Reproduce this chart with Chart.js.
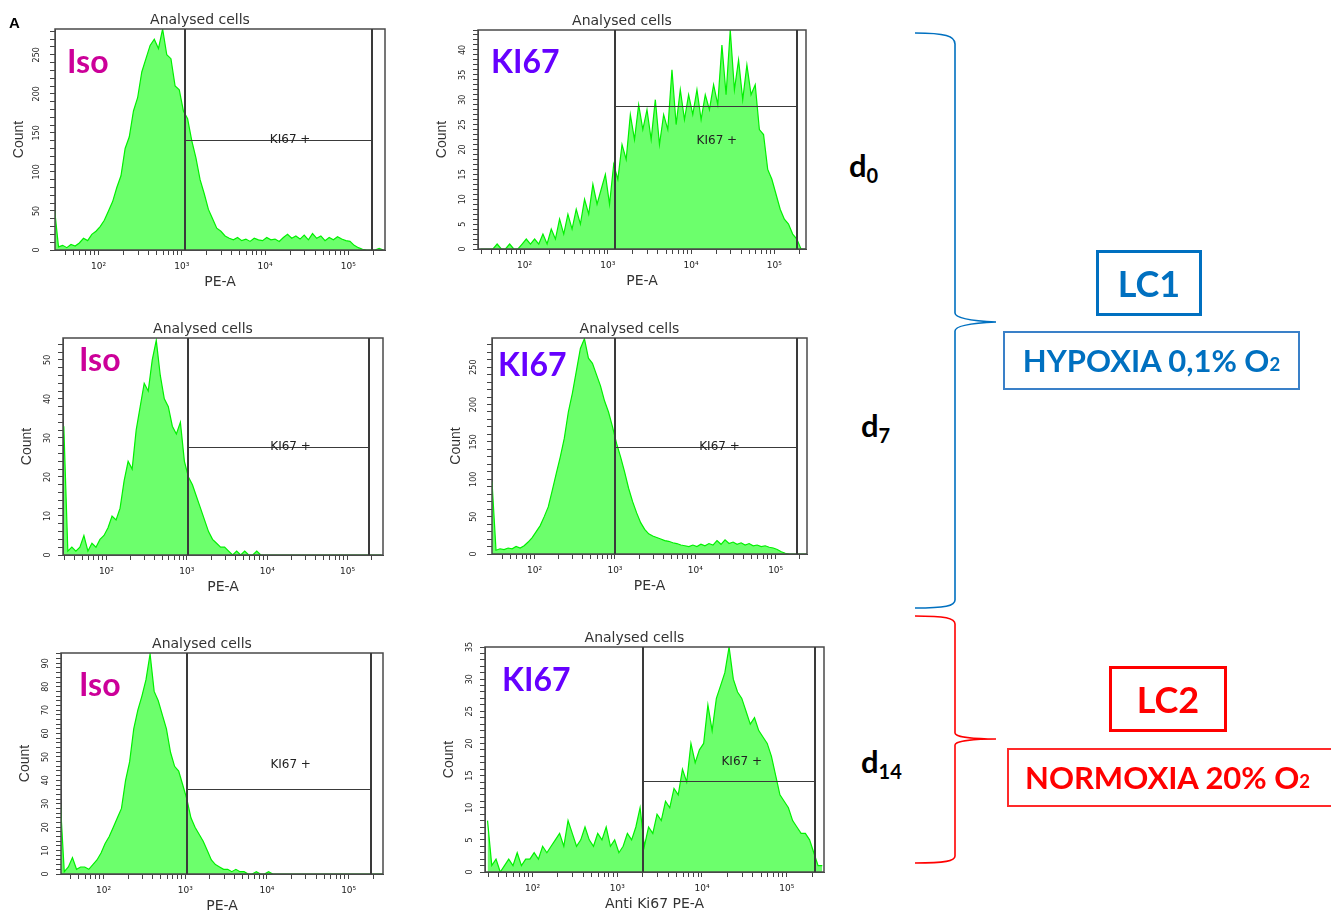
<!DOCTYPE html>
<html>
<head>
<meta charset="utf-8">
<script src="https://cdn.jsdelivr.net/npm/chart.js@4.4.1/dist/chart.umd.min.js"></script>
<style>
  body { margin: 0; background: #fff; width: 1331px; height: 916px; overflow: hidden; position: relative; font-family: Lato, "Open Sans", sans-serif; }
  canvas { position: absolute; }
  .t { position: absolute; font-weight: 700; white-space: nowrap; line-height: 1; }
  .iso { color: #cc0099; font-size: 32px; }
  .ki { color: #6600ff; font-size: 32px; }
  .day { color: #000; font-size: 31px; line-height: 31px; }
  .day sub { font-size: 20px; vertical-align: baseline; position: relative; top: 6px; }
  .box { position: absolute; box-sizing: border-box; display: flex; align-items: center; justify-content: center; font-weight: 700; white-space: nowrap; line-height: 1; }
  .box sub { font-size: 0.6em; vertical-align: baseline; position: relative; top: 0.2em; }
</style>
</head>
<body>

<div class="t" style="left:9px;top:15px;font:bold 15px 'Liberation Sans';line-height:15px;">A</div>

<div class="t iso" style="left:67px;top:45px;">Iso</div>
<div class="t ki" style="left:491px;top:45px;">KI67</div>
<div class="t iso" style="left:79px;top:343px;">Iso</div>
<div class="t ki" style="left:498px;top:348px;">KI67</div>
<div class="t iso" style="left:79px;top:668px;">Iso</div>
<div class="t ki" style="left:502px;top:663px;">KI67</div>

<div class="t day" style="left:849px;top:150px;">d<sub>0</sub></div>
<div class="t day" style="left:861px;top:410px;">d<sub>7</sub></div>
<div class="t day" style="left:861px;top:746px;">d<sub>14</sub></div>

<svg style="position:absolute;left:0;top:0" width="1331" height="916">
  <path d="M915,33 C945,33 955,36 955,44 L955,313 C955,319 975,321 996,322 C975,323 955,325 955,331 L955,600 C955,606 945,608 915,608"
        fill="none" stroke="#0070c0" stroke-width="1.6"/>
  <path d="M915,616 C945,616 955,618 955,624 L955,733 C955,737 975,739 996,739 C975,739 955,741 955,745 L955,856 C955,861 945,863 915,863"
        fill="none" stroke="#ff0000" stroke-width="1.6"/>
</svg>

<div class="box" style="left:1096px;top:250px;width:106px;height:66px;border:3px solid #0070c0;color:#0070c0;font-size:36px;">LC1</div>
<div class="box" style="left:1003px;top:331px;width:297px;height:59px;border:2px solid #3a80c8;color:#0070c0;font-size:31px;">HYPOXIA 0,1% O<sub>2</sub></div>
<div class="box" style="left:1109px;top:666px;width:118px;height:66px;border:3px solid #ff0000;color:#ff0000;font-size:36px;">LC2</div>
<div class="box" style="left:1007px;top:748px;width:330px;height:59px;border:2px solid #ff2a2a;color:#ff0000;font-size:31px;justify-content:flex-start;padding-left:16px;">NORMOXIA 20% O<sub>2</sub></div>

<script>
// log10 of the channel centres shared by every histogram
const binExp = [
  1.47, 1.52, 1.57, 1.62, 1.67, 1.72, 1.77, 1.82, 1.87, 1.92,
  1.97, 2.02, 2.07, 2.12, 2.17, 2.22, 2.27, 2.32, 2.37, 2.42,
  2.47, 2.52, 2.57, 2.62, 2.67, 2.72, 2.77, 2.82, 2.87, 2.92,
  2.97, 3.02, 3.07, 3.12, 3.17, 3.22, 3.27, 3.32, 3.37, 3.42,
  3.47, 3.52, 3.57, 3.62, 3.67, 3.72, 3.77, 3.82, 3.87, 3.92,
  3.97, 4.02, 4.07, 4.12, 4.17, 4.22, 4.27, 4.32, 4.37, 4.42,
  4.47, 4.52, 4.57, 4.62, 4.67, 4.72, 4.77, 4.82, 4.87, 4.92,
  4.97, 5.02, 5.07, 5.12, 5.17, 5.22, 5.27, 5.32, 5.37, 5.42
];

// counts per channel
const isoD0 = [
  55, 4, 6, 3, 7, 5, 9, 15, 12, 20,
  24, 30, 38, 50, 62, 80, 95, 130, 145, 178,
  195, 228, 245, 262, 270, 258, 283, 250, 245, 210,
  205, 178, 168, 140, 118, 90, 72, 52, 40, 28,
  24, 18, 15, 13, 16, 12, 14, 11, 15, 13,
  12, 16, 13, 14, 11, 16, 20, 15, 18, 14,
  19, 13, 21, 15, 18, 12, 16, 13, 17, 14,
  12, 11, 6, 3, 1, 0, 0, 0, 2, 0
];
const ki67D0 = [
  0, 0, 0, 0, 1, 0, 0, 1, 0, 0,
  1, 2, 1, 2, 1, 3, 1, 4, 2, 6,
  3, 7, 4, 8, 5, 10, 7, 13, 9, 12,
  15, 9, 17, 14, 21, 18, 27, 22, 29, 24,
  28, 22, 30, 21, 27, 24, 36, 25, 32, 26,
  31, 27, 32, 26, 31, 28, 33, 29, 41, 31,
  44, 32, 38, 30, 37, 31, 33, 24, 23, 16,
  14, 11, 8, 6, 5, 3, 2, 0, 0, 0
];
const isoD7 = [
  33, 1, 2, 1, 2, 5, 1, 3, 2, 4,
  5, 7, 10, 9, 12, 19, 24, 22, 32, 38,
  44, 42, 50, 55, 46, 40, 38, 33, 31, 34,
  24, 20, 18, 15, 12, 9, 6, 4, 3, 2,
  2, 1, 0, 1, 0, 1, 0, 0, 1, 0,
  0, 0, 0, 0, 0, 0, 0, 0, 0, 0,
  0, 0, 0, 0, 0, 0, 0, 0, 0, 0,
  0, 0, 0, 0, 0, 0, 0, 0, 0, 0
];
const ki67D7 = [
  97, 5, 7, 6, 8, 7, 10, 8, 11, 16,
  22, 30, 38, 50, 63, 85, 108, 130, 155, 190,
  215, 245, 275, 288, 262, 255, 240, 225, 205, 190,
  170, 148, 130, 110, 88, 70, 55, 42, 33, 27,
  24, 22, 20, 18, 17, 15, 14, 12, 11, 10,
  12, 10, 13, 11, 14, 12, 18, 13, 19, 14,
  16, 13, 15, 12, 14, 11, 12, 10, 11, 9,
  8, 6, 3, 1, 0, 0, 0, 0, 0, 0
];
const isoD14 = [
  32, 1, 3, 7, 2, 3, 3, 2, 4, 6,
  9, 13, 16, 20, 24, 28, 40, 48, 62, 70,
  76, 83, 94, 78, 74, 68, 62, 52, 46, 44,
  38, 32, 24, 20, 17, 14, 10, 6, 4, 3,
  2, 2, 1, 2, 1, 1, 0, 0, 1, 0,
  0, 1, 0, 0, 0, 0, 0, 0, 0, 0,
  0, 0, 0, 0, 0, 0, 0, 0, 0, 0,
  0, 0, 0, 0, 0, 0, 0, 0, 0, 0
];
const ki67D14 = [
  8, 1, 2, 0, 1, 2, 1, 3, 1, 2,
  2, 3, 2, 4, 3, 4, 5, 6, 4, 8,
  6, 4, 5, 7, 5, 4, 6, 5, 7, 4,
  5, 3, 4, 6, 5, 7, 10, 4, 7, 6,
  9, 8, 11, 10, 13, 12, 16, 14, 20, 17,
  19, 20, 26, 22, 27, 29, 31, 35, 30, 28,
  27, 25, 23, 24, 22, 21, 20, 18, 15, 12,
  11, 10, 8, 7, 6, 6, 5, 3, 1, 1
];

// axis ranges and gates, panel order: Iso d0, KI67 d0, Iso d7, KI67 d7, Iso d14, KI67 d14
const xMinExp = [1.478, 1.44, 1.46, 1.47, 1.48, 1.44];
const xMaxExp = [5.44, 5.38, 5.44, 5.39, 5.42, 5.44];
const yMax = [283, 44, 55.6, 289, 94.4, 35];
const yMinorStep = [10, 1, 2, 10, 2, 1];
const yLabelStep = [50, 5, 10, 50, 10, 5];
const gateLo = [1086, 1202, 1023, 1000, 1047, 1995];
const gateHi = [192800, 186200, 186200, 186200, 186200, 213800];
const gateLevel = [141, 28.7, 27.7, 143, 36.3, 14.1];
const gateLabelX = [20000, 20400, 19500, 20000, 19500, 29500];
const gateLabelY = [141, 21.7, 27.7, 143, 46.6, 17.2];
const xTitles = ['PE-A', 'PE-A', 'PE-A', 'PE-A', 'PE-A', 'Anti Ki67 PE-A'];
const series = [isoD0, ki67D0, isoD7, ki67D7, isoD14, ki67D14];

// plot frame of each panel on the page: left, top, right, bottom
const frames = [
  [55, 29, 389, 250],
  [478, 30, 810, 249],
  [63, 338, 387, 555],
  [492, 338, 811, 554],
  [61, 653, 387, 874],
  [485, 647, 828, 872]
];

const sup = { 1: '¹', 2: '²', 3: '³', 4: '⁴', 5: '⁵' };
const isDecade = v => { const e = Math.log10(v); return Math.abs(e - Math.round(e)) < 1e-6; };
const isWholeMantissa = v => {
  const e = Math.floor(Math.log10(v) + 1e-9);
  const m = v / Math.pow(10, e);
  return Math.abs(m - Math.round(m)) < 1e-6;
};

const gatePlugin = {
  id: 'gate',
  afterDatasetsDraw(chart, args, o) {
    const { ctx, chartArea: a, scales: { x, y } } = chart;
    ctx.save();
    // frame
    ctx.strokeStyle = '#4a4a4a';
    ctx.lineWidth = 1.5;
    ctx.strokeRect(a.left, a.top, a.right - a.left, a.bottom - a.top);
    // range gate
    ctx.strokeStyle = '#3a3a3a';
    ctx.lineWidth = 2;
    [o.lo, o.hi].forEach(v => {
      const px = Math.round(x.getPixelForValue(v));
      ctx.beginPath();
      ctx.moveTo(px, a.top);
      ctx.lineTo(px, a.bottom);
      ctx.stroke();
    });
    const gy = Math.round(y.getPixelForValue(o.level)) + 0.5;
    ctx.lineWidth = 1.2;
    ctx.beginPath();
    ctx.moveTo(x.getPixelForValue(o.lo), gy);
    ctx.lineTo(x.getPixelForValue(o.hi), gy);
    ctx.stroke();
    ctx.fillStyle = '#222';
    ctx.font = '12px "DejaVu Sans"';
    ctx.textAlign = 'center';
    ctx.textBaseline = 'middle';
    ctx.fillText('KI67 +', x.getPixelForValue(o.labelX), y.getPixelForValue(o.labelY));
    ctx.restore();
  }
};

function makePanel(i) {
  const [L, T, R, B] = frames[i];
  const yw = 44, th = 17, xh = 41, pr = 2;
  const cv = document.createElement('canvas');
  cv.width = yw + (R - L) + pr;
  cv.height = th + (B - T) + xh;
  cv.style.left = (L - yw) + 'px';
  cv.style.top = (T - th) + 'px';
  document.body.insertBefore(cv, document.body.firstChild);

  const counts = series[i];
  const minor = yMinorStep[i];
  return new Chart(cv.getContext('2d'), {
    type: 'line',
    data: {
      datasets: [{
        data: binExp.map((e, k) => ({ x: Math.pow(10, e), y: counts[k] })),
        borderColor: 'rgb(0,240,0)',
        backgroundColor: 'rgb(108,255,108)',
        borderWidth: 1.2,
        pointRadius: 0,
        tension: 0,
        fill: 'origin'
      }]
    },
    options: {
      responsive: false,
      animation: false,
      events: [],
      layout: { padding: { left: 0, top: 0, right: pr, bottom: 0 } },
      plugins: {
        legend: { display: false },
        tooltip: { enabled: false },
        title: {
          display: true,
          text: 'Analysed cells',
          color: '#333',
          font: { family: 'DejaVu Sans', size: 14, weight: 'normal', lineHeight: '16px' },
          padding: { top: 0, bottom: 1 }
        },
        gate: {
          lo: gateLo[i], hi: gateHi[i], level: gateLevel[i],
          labelX: gateLabelX[i], labelY: gateLabelY[i]
        }
      },
      scales: {
        x: {
          type: 'logarithmic',
          min: Math.pow(10, xMinExp[i]),
          max: Math.pow(10, xMaxExp[i]),
          afterFit: s => { s.height = xh; },
          border: { color: '#444', width: 1 },
          grid: {
            drawOnChartArea: false,
            tickLength: 5,
            tickColor: c => (c.tick && isWholeMantissa(c.tick.value)) ? '#444' : 'rgba(0,0,0,0)'
          },
          ticks: {
            autoSkip: false,
            maxRotation: 0,
            minRotation: 0,
            padding: 6,
            color: '#222',
            font: { family: 'DejaVu Sans', size: 9 },
            callback: v => isDecade(v) ? '10' + sup[Math.round(Math.log10(v))] : ''
          },
          title: {
            display: true,
            text: xTitles[i],
            color: '#333',
            font: { family: 'DejaVu Sans', size: 14 },
            padding: 0
          }
        },
        y: {
          min: 0,
          max: yMax[i],
          bounds: 'data',
          afterFit: s => { s.width = yw; },
          border: { color: '#444', width: 1 },
          grid: {
            drawOnChartArea: false,
            tickLength: 5,
            tickColor: c => {
              if (!c.tick) return 'rgba(0,0,0,0)';
              const r = c.tick.value / minor;
              return Math.abs(r - Math.round(r)) < 1e-6 ? '#444' : 'rgba(0,0,0,0)';
            }
          },
          ticks: {
            stepSize: minor,
            autoSkip: false,
            includeBounds: false,
            minRotation: 90,
            maxRotation: 90,
            crossAlign: 'center',
            padding: 5,
            color: '#222',
            font: { family: 'DejaVu Sans', size: 8 },
            callback: v => (v % yLabelStep[i] === 0 ? v : '')
          },
          title: {
            display: true,
            text: 'Count',
            color: '#333',
            font: { family: 'Liberation Sans', size: 14 },
            padding: 0
          }
        }
      }
    },
    plugins: [gatePlugin]
  });
}

for (let i = 0; i < frames.length; i++) makePanel(i);
</script>
</body>
</html>
